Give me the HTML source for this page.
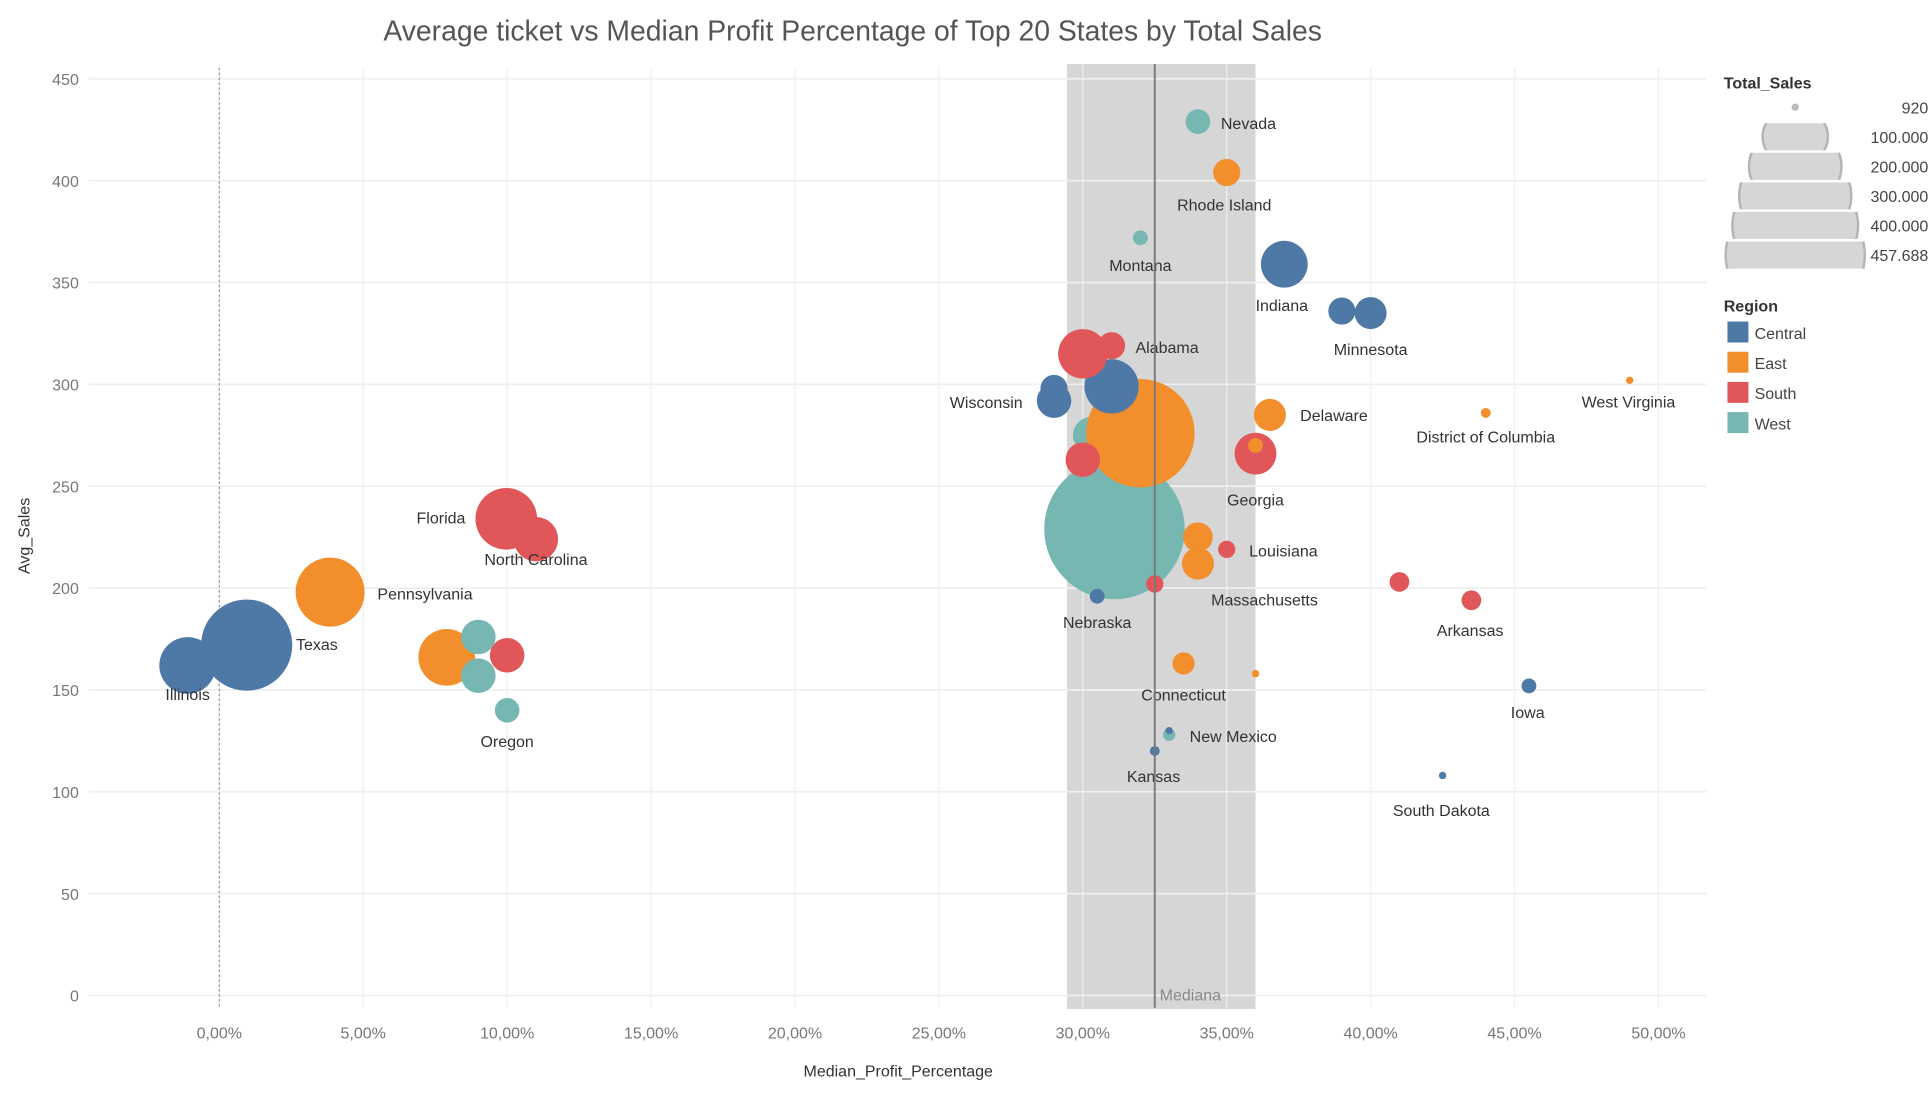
<!DOCTYPE html>
<html><head><meta charset="utf-8"><style>
html,body{margin:0;padding:0;background:#fff;}
svg{display:block;font-family:"Liberation Sans","DejaVu Sans",sans-serif;}
</style></head><body>
<svg id="chart" width="1932" height="1094" viewBox="0 0 1568 888" preserveAspectRatio="none" xmlns="http://www.w3.org/2000/svg">
<text x="692" y="33" text-anchor="middle" font-size="23" fill="#555">Average ticket vs Median Profit Percentage of Top 20 States by Total Sales</text>
<g id="grid"></g>
<g id="band"></g>
<g id="marks"></g>
<g id="labels"></g>
<text x="729" y="874" text-anchor="middle" font-size="13" fill="#333">Median_Profit_Percentage</text>
<text transform="translate(24,435) rotate(-90)" text-anchor="middle" font-size="13" fill="#333">Avg_Sales</text>
<g id="legend"></g>
</svg>
<script>
const xTicks=[0,5,10,15,20,25,30,35,40,45,50];
const xTickLabels=["0,00%","5,00%","10,00%","15,00%","20,00%","25,00%","30,00%","35,00%","40,00%","45,00%","50,00%"];
const yTicks=[0,50,100,150,200,250,300,350,400,450];
const medianValue=32.5;
const bandRange=[29.45,36.0];
const states=["Illinois","Texas","Pennsylvania","Florida","North Carolina","New York","Washington A","Washington B","Tennessee","Oregon","Wisconsin","Wisconsin B","Alabama","Kentucky","Michigan","New York B","California","Washington","Mississippi","Nevada","Rhode Island","Montana","Indiana","Minnesota","Minnesota B","Delaware","Georgia","Maryland","Louisiana","Massachusetts","Virginia","Arkansas B","Nebraska","Connecticut","Vermont","New Mexico","Missouri","Kansas","Arkansas","Oklahoma","Iowa","South Dakota","District of Columbia","West Virginia"];
const profitPct=[-1.1,0.95,3.85,9.97,11.0,7.9,9.0,9.0,10.0,10.0,29.0,29.0,31.0,30.0,31.0,32.0,31.1,30.3,30.0,34.0,35.0,32.0,37.0,40.0,39.0,36.5,36.0,36.0,35.0,34.0,34.0,32.5,30.5,33.5,36.0,33.0,33.0,32.5,43.5,41.0,45.5,42.5,44.0,49.0];
const avgSales=[162,172,198,234,224,166,176,157,167,140,292,298,319,315,299,276,229,275,263,429,404,372,359,335,336,285,266,270,219,225,212,202,196,163,158,128,130,120,194,203,152,108,286,302];
const bubbleR=[23,37,28,25,18,23,14,14,14,10,14,11,11,20,22,44,57,15,14,10,11,6,19,13,11,13,17,6,7,12,13,7,6,9,3,5,3,4,8,8,6,3,4,3];
const regions=["Central","Central","East","South","South","East","West","West","South","West","Central","Central","South","South","Central","East","West","West","South","West","East","West","Central","Central","Central","East","South","East","South","East","East","South","Central","East","East","West","Central","Central","South","South","Central","Central","East","East"];
const labelNames=["Illinois","Texas","Pennsylvania","Florida","North Carolina","Oregon","Wisconsin","Alabama","Nevada","Rhode Island","Montana","Indiana","Minnesota","Delaware","Georgia","Louisiana","Massachusetts","Nebraska","Connecticut","New Mexico","Kansas","Arkansas","Iowa","South Dakota","District of Columbia","West Virginia"];
const labelX=[-1.1,0.95,3.85,9.97,11.0,10.0,29.0,31.0,34.0,35.0,32.0,37.0,40.0,36.5,36.0,35.0,34.0,30.5,33.5,33.0,32.5,43.5,45.5,42.5,44.0,49.0];
const labelY=[162,172,198,234,224,140,292,319,429,404,372,359,335,285,266,219,212,196,163,128,120,194,152,108,286,302];
const labelDx=[0,57,77,-53,0,0,-55,45,41,-2,0,-2,0,52,0,46,54,0,0,52,-1,-1,-1,-1,0,-1];
const labelDy=[28,4,6,4,21,30,6,6,6,31,27,38,34,5,42,6,34,26,30,6,25,29,26,33,24,22];
const colors={Central:"#4e79a7",East:"#f28e2b",South:"#e15759",West:"#76b7b2"};
const regionNames=["Central","East","South","West"];
const sizeLabels=["920","100.000","200.000","300.000","400.000","457.688"];
const NS="http://www.w3.org/2000/svg";
const X0=72,X1=1385,Y0=55,Y1=818;
function xs(v){return 178+v*(1346-178)/50;}
function ys(v){return 808-v*(808-64)/450;}
function mk(tag,attrs,parent,text){const e=document.createElementNS(NS,tag);for(const k in attrs)e.setAttribute(k,attrs[k]);if(text!==undefined)e.textContent=text;parent.appendChild(e);return e;}
const grid=document.getElementById('grid');
mk('rect',{x:X0,y:Y0,width:X1-X0,height:Y1-Y0,fill:'#fff'},grid);
xTicks.forEach((t,i)=>{
  mk('line',{x1:xs(t),x2:xs(t),y1:Y0,y2:Y1,stroke:'#f0f0f0','stroke-width':1},grid);
  const l=mk('text',{x:xs(t),y:843,'text-anchor':'middle','font-size':13,fill:'#777'},grid,xTickLabels[i]);
  
  
});
yTicks.forEach(t=>{
  mk('line',{x1:X0,x2:X1,y1:ys(t),y2:ys(t),stroke:'#f0f0f0','stroke-width':1.5},grid);
  const l=mk('text',{x:64,y:ys(t)+5,'text-anchor':'end','font-size':13,fill:'#777'},grid,String(t));
  
  
});
mk('line',{x1:xs(0),x2:xs(0),y1:Y0,y2:Y1,stroke:'#999','stroke-width':1,'stroke-dasharray':'2,2'},grid);
const band=document.getElementById('band');
const br=mk('rect',{x:xs(bandRange[0]),y:Y0-3,width:xs(bandRange[1])-xs(bandRange[0]),height:Y1-Y0+4,fill:'#d6d6d6'},band);


[30,35].forEach(t=>mk('line',{x1:xs(t),x2:xs(t),y1:Y0-3,y2:Y1,stroke:'#eee','stroke-width':1},band));
yTicks.forEach(t=>{mk('line',{x1:xs(bandRange[0]),x2:xs(bandRange[1]),y1:ys(t),y2:ys(t),stroke:'#eee','stroke-width':1.5},band);});
const marks=document.getElementById('marks');
let order=profitPct.map((_,i)=>i).sort((a,b)=>bubbleR[b]-bubbleR[a]);
const wi=states.indexOf("Washington"), ni=states.indexOf("New York B");
order=order.filter(i=>i!==wi);
order.splice(order.indexOf(ni),0,wi);
order.forEach(i=>{
  const c=mk('circle',{cx:xs(profitPct[i]),cy:ys(avgSales[i]),r:bubbleR[i],fill:colors[regions[i]]},marks);
  
  
});
const ml=mk('line',{x1:xs(medianValue),x2:xs(medianValue),y1:Y0-3,y2:Y1,stroke:'#777','stroke-width':1.5},band.parentNode);


const mt=mk('text',{x:xs(medianValue)+4,y:812,'font-size':13,fill:'#888'},band.parentNode,'Mediana');


const labels=document.getElementById('labels');
labelNames.forEach((n,i)=>{
  const t=mk('text',{x:xs(labelX[i])+labelDx[i],y:ys(labelY[i])+labelDy[i],'text-anchor':'middle','font-size':13,fill:'#333'},labels,n);
  
  
});
const lg=document.getElementById('legend');
const lt=mk('text',{x:1399,y:72,'font-size':13,'font-weight':'bold',fill:'#333'},lg,'Total_Sales');


mk('circle',{cx:1457,cy:87,r:3,fill:'#bbb'},lg);
const rowW=[53,75,91,102,113];
const defs=mk('defs',{},lg);
rowW.forEach((w,i)=>{
  const top=100+i*24, h=22;
  const cp=mk('clipPath',{id:'cp'+i},defs);
  mk('rect',{x:1457-w/2-2,y:top,width:w+4,height:h},cp);
  const R=w/2;
  mk('ellipse',{cx:1457,cy:top+h/2,rx:R,ry:R*0.9,fill:'#d6d6d6',stroke:'#b5b5b5','stroke-width':2,'clip-path':'url(#cp'+i+')'},lg);
});
sizeLabels.forEach((s,i)=>{
  const t=mk('text',{x:1565,y:92+i*24,'text-anchor':'end','font-size':13,fill:'#444'},lg,s);
  
  
});
const rt=mk('text',{x:1399,y:253,'font-size':13,'font-weight':'bold',fill:'#333'},lg,'Region');


regionNames.forEach((r,i)=>{
  const y=261+i*24.5;
  const s=mk('rect',{x:1402,y:y,width:17,height:17,fill:colors[r]},lg);
  
  
  const t=mk('text',{x:1424,y:y+14,'font-size':13,fill:'#444'},lg,r);
  
  
});
</script>
</body></html>
